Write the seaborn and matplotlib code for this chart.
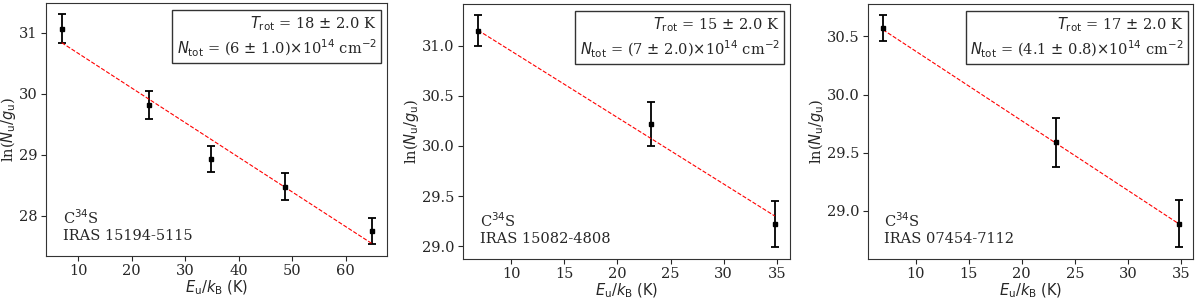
import numpy as np
import matplotlib
matplotlib.use("Agg")
import matplotlib.pyplot as plt
from matplotlib.ticker import MultipleLocator
import seaborn as sns

# upper-level energies (K)
eu_1 = [6.9, 23.2, 34.8, 48.6, 64.8]
eu_2 = [6.9, 23.2, 34.8]
eu_3 = [6.9, 23.2, 34.8]
# ln(Nu/gu) and uncertainties
lnN_1 = [31.07, 29.82, 28.93, 28.48, 27.75]
err_1 = [0.23, 0.23, 0.22, 0.22, 0.22]
lnN_2 = [31.15, 30.22, 29.22]
err_2 = [0.15, 0.22, 0.23]
lnN_3 = [30.57, 29.59, 28.89]
err_3 = [0.11, 0.21, 0.205]
# fitted lines: slope, intercept
fit_slope = [-0.0568, -0.0663, -0.0598]
fit_icept = [31.23, 31.61, 30.97]
ytick_step = [1.0, 0.5, 0.5]

sources = ["IRAS 15194-5115", "IRAS 15082-4808", "IRAS 07454-7112"]
trot_txt = [r"$T_{\rm rot}$ = 18 $\pm$ 2.0 K",
            r"$T_{\rm rot}$ = 15 $\pm$ 2.0 K",
            r"$T_{\rm rot}$ = 17 $\pm$ 2.0 K"]
ntot_txt = [r"$N_{\rm tot}$ = (6 $\pm$ 1.0)$\times$10$^{14}$ cm$^{-2}$",
            r"$N_{\rm tot}$ = (7 $\pm$ 2.0)$\times$10$^{14}$ cm$^{-2}$",
            r"$N_{\rm tot}$ = (4.1 $\pm$ 0.8)$\times$10$^{14}$ cm$^{-2}$"]

sns.set_style("ticks")
plt.rcParams['font.family'] = ['DejaVu Serif']
plt.rcParams['mathtext.fontset'] = 'dejavusans'
plt.rcParams['font.size'] = 10.5

fig = plt.figure(figsize=(12, 2.98), dpi=100)
boxes = [[0.0385, 0.141, 0.284, 0.849], [0.386, 0.131, 0.272, 0.856], [0.7235, 0.131, 0.271, 0.856]]
data = [(eu_1, lnN_1, err_1), (eu_2, lnN_2, err_2), (eu_3, lnN_3, err_3)]

for i in range(3):
    ax = fig.add_axes(boxes[i])
    x, y, e = data[i]
    x = np.array(x)
    ax.errorbar(x, y, yerr=e, fmt='s', color='black', markersize=3, capsize=3, elinewidth=1.3, capthick=1.3)
    sns.lineplot(x=x, y=fit_slope[i]*x + fit_icept[i], ax=ax, color='red', linestyle='--', linewidth=0.8)
    ax.yaxis.set_major_locator(MultipleLocator(ytick_step[i]))
    if i == 0:
        ax.yaxis.set_major_formatter('{x:.0f}')
    else:
        ax.yaxis.set_major_formatter('{x:.1f}')
    ax.tick_params(pad=2.5, length=3.5)
    ax.set_xlabel(r"$E_{\rm u}/k_{\rm B}$ (K)", family='DejaVu Sans', labelpad=0)
    ax.set_ylabel(r"ln($N_{\rm u}/g_{\rm u}$)", labelpad=0.5)
    for s in ax.spines.values():
        s.set_color('#333333')
    ax.text(0.97, 0.955, trot_txt[i] + "\n" + ntot_txt[i], transform=ax.transAxes, ha='right', va='top',
            multialignment='right', linespacing=1.3,
            bbox=dict(boxstyle='square,pad=0.3', facecolor='white', edgecolor='#333333'))
    ax.text(0.05, 0.05, "C$^{34}$S\n" + sources[i], transform=ax.transAxes, ha='left', va='bottom')

plt.savefig("out.png", dpi=100)
